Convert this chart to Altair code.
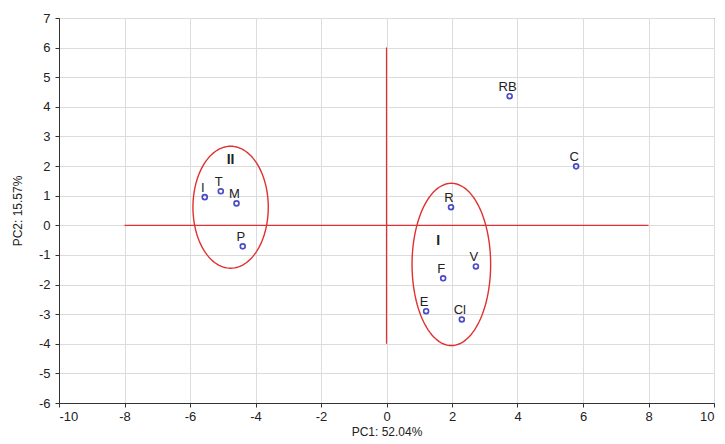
import altair as alt
import pandas as pd
import numpy as np

labels = ["I", "T", "M", "P", "R", "V", "F", "E", "Cl", "RB", "C"]
pc1 = [-5.55, -5.06, -4.58, -4.39, 1.97, 2.73, 1.73, 1.21, 2.30, 3.76, 5.79]
pc2 = [0.95, 1.15, 0.74, -0.71, 0.61, -1.39, -1.79, -2.90, -3.18, 4.36, 1.99]

group_names = ["II", "I"]
group_cx = [-4.76, 1.98]
group_cy = [0.61, -1.32]
group_rx = [1.15, 1.20]
group_ry = [2.06, 2.74]
group_label_x = [-4.76, 1.58]
group_label_y = [2.2, -0.54]

x_ticks = list(range(-10, 11, 2))
y_ticks = list(range(-6, 8))

pts = pd.DataFrame({"x": pc1, "y": pc2, "label": labels})

ell_rows = []
t = np.linspace(0, 2 * np.pi, 121)
for g, cx, cy, rx, ry in zip(group_names, group_cx, group_cy, group_rx, group_ry):
    for i, tt in enumerate(t):
        ell_rows.append({"g": g, "o": i, "x": cx + rx * np.cos(tt), "y": cy + ry * np.sin(tt)})
ell = pd.DataFrame(ell_rows)

glab = pd.DataFrame({"x": group_label_x, "y": group_label_y, "label": group_names})

cross_h = pd.DataFrame({"x": [-8], "x2": [8], "y": [0]})
cross_v = pd.DataFrame({"x": [0], "y": [-4], "y2": [6]})

xs = alt.Scale(domain=[-10, 10], nice=False, zero=False)
ys = alt.Scale(domain=[-6, 7], nice=False, zero=False)

xax = alt.Axis(values=x_ticks, title="PC1: 52.04%", labelPadding=3, titlePadding=3)
yax = alt.Axis(values=y_ticks, title="PC2: 15.57%", labelPadding=5, titlePadding=14)

X = alt.X("x:Q", scale=xs, axis=xax)
Y = alt.Y("y:Q", scale=ys, axis=yax)

hline = alt.Chart(cross_h).mark_rule(color="#e03030", strokeWidth=1.2).encode(x=X, x2="x2:Q", y=Y)
vline = alt.Chart(cross_v).mark_rule(color="#e03030", strokeWidth=1.2).encode(x=X, y=Y, y2="y2:Q")

ellipses = alt.Chart(ell).mark_line(color="#e03030", strokeWidth=1.4).encode(
    x=X, y=Y, detail="g:N", order="o:Q")

base_pts = alt.Chart(pts)
points = base_pts.mark_point(shape="circle", size=24, filled=False, color="#0000b0", strokeWidth=1.7).encode(
    x=X, y=Y)
text = base_pts.mark_text(dy=-9, dx=-2, fontSize=13, font="Liberation Sans", color="#222").encode(
    x=X, y=Y, text="label:N")

gtext = alt.Chart(glab).mark_text(fontSize=14, fontWeight="bold", font="Liberation Sans", color="#222").encode(
    x=X, y=Y, text="label:N")

chart = alt.layer(hline, vline, ellipses, points, text, gtext).properties(
    width=655, height=385,
    autosize=alt.AutoSizeParams(type="none"),
    padding={"left": 51, "top": 10, "right": 3, "bottom": 36},
).configure_view(stroke="#333", strokeWidth=1).configure_axis(
    grid=True, gridColor="#dcdcdc", domainColor="#333", tickColor="#333", tickSize=4,
    labelFontSize=13, labelColor="#222", titleFontSize=12, titleFontWeight="normal",
    titleColor="#222", labelFont="Liberation Sans", titleFont="Liberation Sans",
    labelOverlap=False, labelExpr="datum.value + ''")

chart.save("out.html", embed_options={"renderer": "svg", "actions": False})
